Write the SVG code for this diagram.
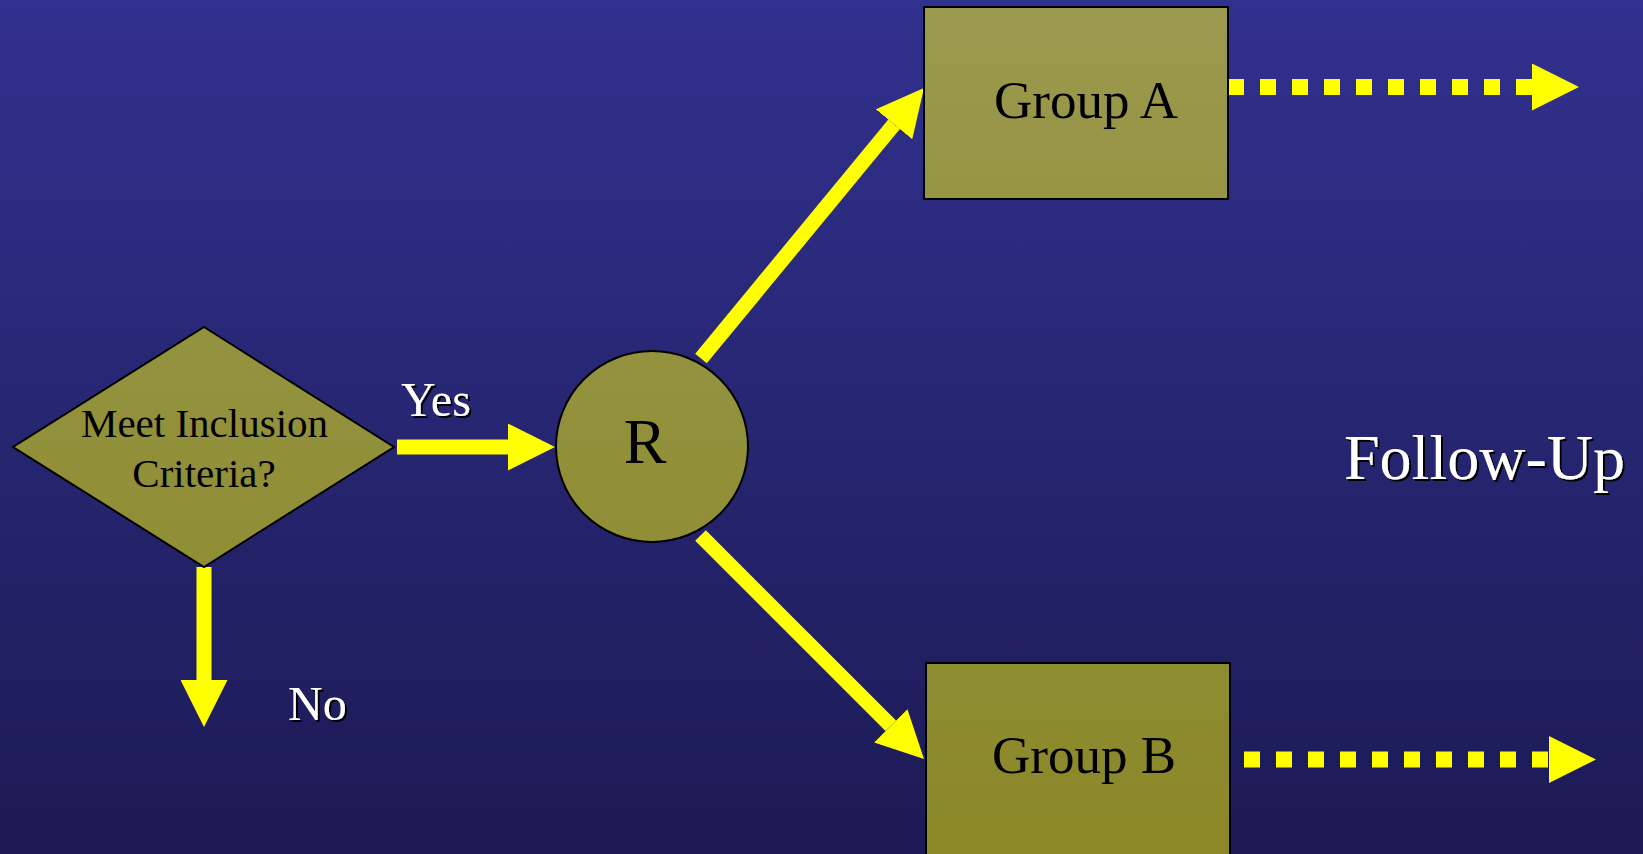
<svg xmlns="http://www.w3.org/2000/svg" width="1643" height="854" viewBox="0 0 1643 854">
  <defs>
    <linearGradient id="bg" x1="0" y1="0" x2="0" y2="1">
      <stop offset="0" stop-color="#31318f"/>
      <stop offset="1" stop-color="#1c1a54"/>
    </linearGradient>
    <linearGradient id="olive" gradientUnits="userSpaceOnUse" x1="0" y1="0" x2="0" y2="854">
      <stop offset="0" stop-color="#9a994e"/>
      <stop offset="1" stop-color="#8a8828"/>
    </linearGradient>
    <marker id="head" markerUnits="userSpaceOnUse" markerWidth="47" markerHeight="47" viewBox="0 0 47 47" refX="0" refY="23.5" orient="auto">
      <path d="M0,0 L47,23.5 L0,47 Z" fill="#ffff00"/>
    </marker>
    <filter id="shadow" x="-10%" y="-10%" width="130%" height="140%">
      <feDropShadow dx="2" dy="2" stdDeviation="0" flood-color="#000000" flood-opacity="1"/>
    </filter>
  </defs>
  <style>
    .node { fill: url(#olive); stroke: #000000; stroke-width: 2; }
    .ntext { font-family: "Liberation Serif", "Times New Roman", serif; fill: #000000; text-anchor: middle; }
    .label { font-family: "Liberation Serif", "Times New Roman", serif; fill: #ffffff; filter: url(#shadow); }
    .arrow { stroke: #ffff00; stroke-width: 15; fill: none; marker-end: url(#head); }
    .dotted { stroke: #ffff00; stroke-width: 16; fill: none; stroke-dasharray: 16 16; marker-end: url(#head); }
  </style>
  <rect x="0" y="0" width="1643" height="854" fill="url(#bg)"/>

  <g id="connectors">
    <line class="arrow" x1="397" y1="447" x2="508" y2="447"/>
    <line class="arrow" x1="204" y1="567" x2="204" y2="680"/>
    <line class="arrow" x1="701" y1="358.5" x2="894.1" y2="124.3"/>
    <line class="arrow" x1="700.5" y1="535.5" x2="890.8" y2="725.8"/>
    <line class="dotted" x1="1228" y1="87" x2="1532" y2="87"/>
    <line class="dotted" x1="1244" y1="759.5" x2="1549" y2="759.5"/>
  </g>

  <g id="decision">
    <polygon class="node" stroke-width="1.5" points="204,327 394,447 204,567 13,447"/>
    <text class="ntext" x="204.5" y="437" font-size="41">Meet Inclusion</text>
    <text class="ntext" x="204" y="487" font-size="41">Criteria?</text>
  </g>

  <g id="randomize">
    <ellipse class="node" cx="652" cy="446.5" rx="96" ry="95.5"/>
    <text class="ntext" x="645" y="463" font-size="64">R</text>
  </g>

  <g id="groupA">
    <rect class="node" x="924" y="7" width="304" height="192"/>
    <text class="ntext" x="1086" y="118" font-size="53">Group A</text>
  </g>

  <g id="groupB">
    <rect class="node" x="926" y="663" width="304" height="200"/>
    <text class="ntext" x="1084" y="773" font-size="53">Group B</text>
  </g>

  <g id="labels">
    <text class="label" x="401" y="416" font-size="48">Yes</text>
    <text class="label" x="288" y="720" font-size="48">No</text>
    <text class="label" x="1344" y="479" font-size="64">Follow-Up</text>
  </g>
</svg>
